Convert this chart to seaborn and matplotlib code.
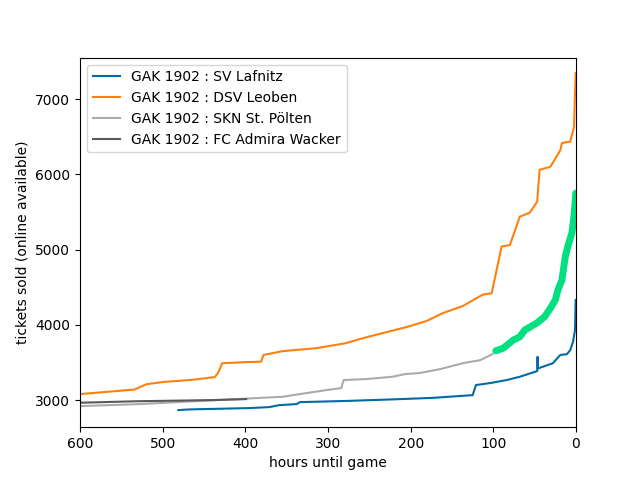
import matplotlib
matplotlib.use("Agg")
import matplotlib.pyplot as plt
import seaborn as sns
import pandas as pd

# --- ticket sales per game (hours before kickoff, tickets sold) ---
lafnitz_hours = [481, 468, 395, 371, 359, 338, 334, 274, 213, 173, 125, 121, 104, 84, 68,
                 47, 46.5, 46, 28, 19, 11, 7, 3.6, 1.2, 0.4]
lafnitz_tickets = [2867, 2876, 2894, 2907, 2933, 2947, 2973, 2990, 3013, 3030, 3066, 3200, 3226, 3266, 3310,
                   3385, 3575, 3420, 3490, 3600, 3610, 3664, 3775, 3930, 4330]

leoben_hours = [610, 600, 534, 520, 500, 464, 437, 433, 428, 399, 381, 378, 355, 314, 278, 258, 234,
                205, 181, 161, 137, 113, 102, 90, 80, 68, 56, 47, 44, 31, 19, 17, 7, 2.4, 1.2, 0.3]
leoben_tickets = [3070, 3080, 3140, 3210, 3240, 3270, 3305, 3360, 3490, 3505, 3510, 3600, 3650, 3690, 3757,
                  3822, 3890, 3970, 4050, 4156, 4250, 4400, 4420, 5040, 5060, 5436, 5490, 5635, 6060, 6100,
                  6320, 6415, 6433, 6630, 7080, 7345]

stpoelten_hours = [610, 600, 528, 399, 355, 334, 302, 284, 281, 253, 222, 207, 189, 165, 137, 116, 101]
stpoelten_tickets = [2915, 2920, 2947, 3020, 3044, 3080, 3133, 3160, 3266, 3280, 3310, 3345, 3360, 3410,
                     3490, 3530, 3611]

admira_hours = [610, 600, 531, 440, 399]
admira_tickets = [2960, 2965, 2985, 3000, 3013]

# upcoming game (not in legend)
current_hours = [97, 88, 76, 68, 62, 47, 38, 31, 25, 22, 17, 13, 10, 5, 3, 1.5, 0.2]
current_tickets = [3655, 3690, 3797, 3840, 3930, 4027, 4107, 4220, 4330, 4460, 4595, 4905, 5037, 5220,
                   5390, 5560, 5750]

games = [
    ("GAK 1902 : SV Lafnitz", lafnitz_hours, lafnitz_tickets, "#006BA4"),
    ("GAK 1902 : DSV Leoben", leoben_hours, leoben_tickets, "#FF800E"),
    ("GAK 1902 : SKN St. Pölten", stpoelten_hours, stpoelten_tickets, "#ABABAB"),
    ("GAK 1902 : FC Admira Wacker", admira_hours, admira_tickets, "#595959"),
]

plt.style.use("tableau-colorblind10")
fig, ax = plt.subplots(figsize=(6.4, 4.8), dpi=100)

for name, hours, tickets, color in games:
    df = pd.DataFrame({"hours": hours, "tickets": tickets})
    sns.lineplot(data=df, x="hours", y="tickets", ax=ax, color=color, label=name,
                 sort=False, estimator=None, linewidth=1.5)

df_now = pd.DataFrame({"hours": current_hours, "tickets": current_tickets})
sns.lineplot(data=df_now, x="hours", y="tickets", ax=ax, color="#00E080",
             sort=False, estimator=None, linewidth=5, legend=False,
             solid_capstyle="round", solid_joinstyle="round")

ax.set_xlim(600, 0)
ax.set_ylim(2640, 7550)
ax.set_xlabel("hours until game")
ax.set_ylabel("tickets sold (online available)")
ax.legend(loc="upper left")

fig.savefig("out.png", dpi=100)
